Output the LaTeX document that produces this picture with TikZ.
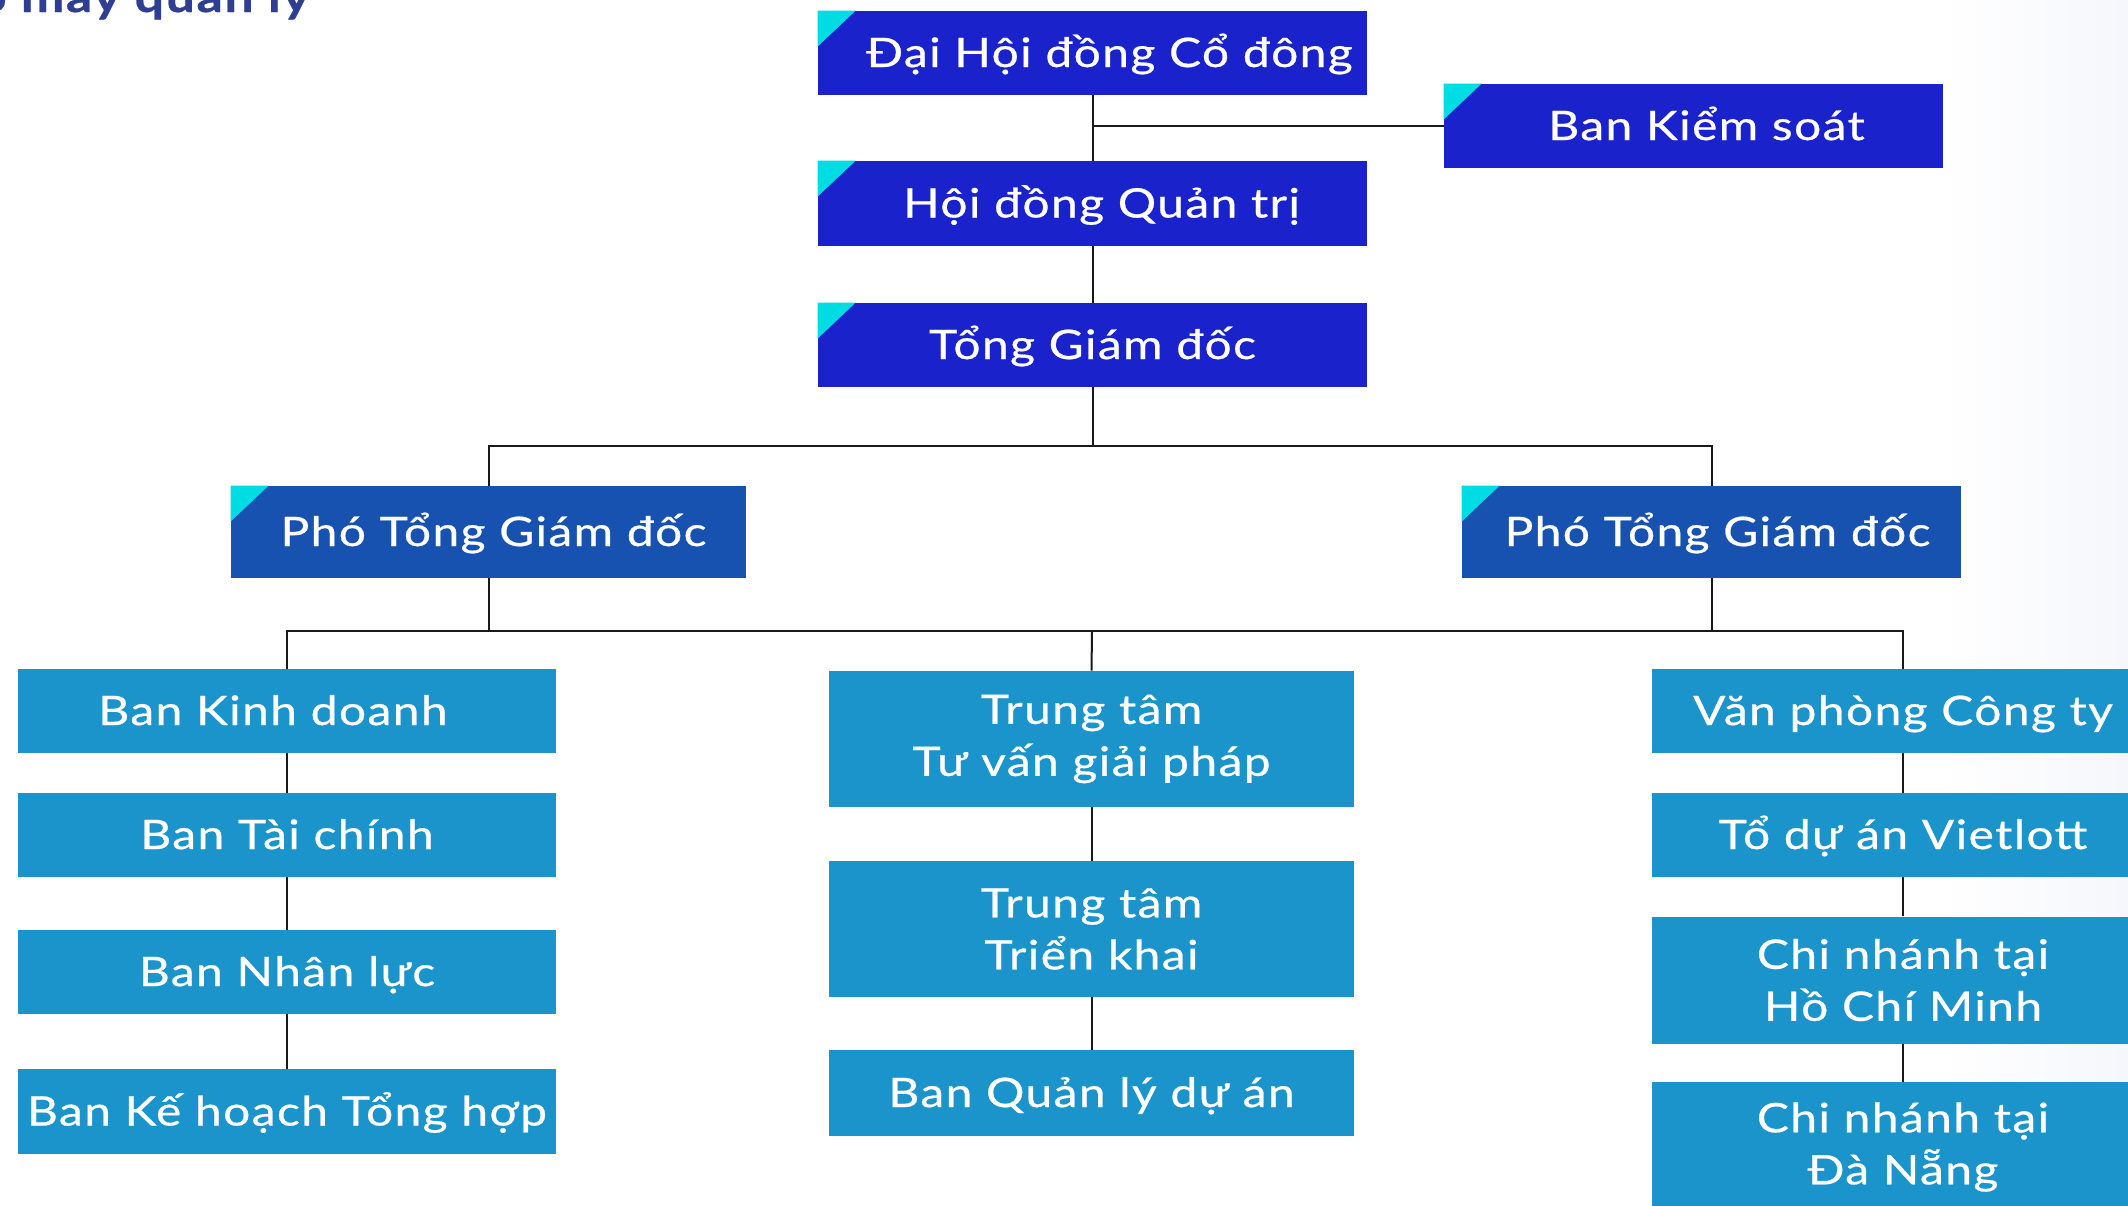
\documentclass[tikz,border=0pt]{standalone}
\usepackage{fontspec}
\setmainfont{Lato}[FakeStretch=1.18,LetterSpace=3.5,FakeBold=0.6]
\definecolor{navy}{RGB}{26,34,204}
\definecolor{midblue}{RGB}{24,82,176}
\definecolor{lightblue}{RGB}{26,148,203}
\definecolor{cyantri}{RGB}{0,220,228}
\definecolor{titleblue}{RGB}{46,62,145}
\definecolor{faint}{RGB}{246,247,252}
\tikzset{
  box/.style={rectangle, inner sep=0pt, text=white, align=center,
    font=\fontsize{20.3pt}{26pt}\selectfont},
  oneline/.style={text height=18pt, text depth=4pt},
  topbox/.style={box, oneline, fill=navy, minimum width=274.5pt, minimum height=42pt},
  vicebox/.style={box, oneline, fill=midblue, minimum height=46pt},
  deptbox/.style={box, fill=lightblue},
  link/.style={draw=black!90, line width=1pt},
  tri/.style={fill=cyantri}
}
\begin{document}
\begin{tikzpicture}[x=0.5pt,y=-0.5pt]
\useasboundingbox (0,0) rectangle (2128,1205);
\clip (0,0) rectangle (2128,1205);
\shade[left color=white, right color=faint] (1940,0) rectangle (2128,1205);

% title (cut at the top left, as in the source)
\node[anchor=base east, inner sep=0pt, text=titleblue,
  font=\bfseries\fontsize{22pt}{26pt}\selectfont] (title) at (310,12) {bộ máy quản lý};

% top level
\node[topbox] (dh) at (1092.5,53) {\hspace*{17pt}Đại Hội đồng Cổ đông};
\node[topbox, minimum width=249.5pt] (bks) at (1693.5,126) {\hspace*{13pt}Ban Kiểm soát};
\node[topbox, minimum height=42.5pt] (hdqt) at (1092.5,203.5) {\hspace*{9pt}Hội đồng Quản trị};
\node[topbox] (tgd) at (1092.5,345) {Tổng Giám đốc};

% deputies
\node[vicebox, minimum width=257.5pt] (ptgdL) at (488.5,532) {\hspace*{5pt}Phó Tổng Giám đốc};
\node[vicebox, minimum width=249.5pt] (ptgdR) at (1711.5,532) {\hspace*{6pt}Phó Tổng Giám đốc};

% corner marks
\foreach \n in {dh,bks,hdqt,tgd,ptgdL,ptgdR}
  \fill[tri] (\n.north west) -- ++(38,0) -- ++(-38,36) -- cycle;

% left column
\node[deptbox, oneline, minimum width=269pt, minimum height=42pt] (kd) at (287,711) {Ban Kinh doanh\hspace*{14pt}};
\node[deptbox, oneline, minimum width=269pt, minimum height=42pt] (tc) at (287,835) {Ban Tài chính};
\node[deptbox, oneline, minimum width=269pt, minimum height=42pt] (nl) at (287,972) {Ban Nhân lực};
\node[deptbox, oneline, minimum width=269pt, minimum height=42.5pt] (kh) at (287,1111.5) {Ban Kế hoạch Tổng hợp};

% center column
\node[deptbox, minimum width=262.5pt, minimum height=68pt] (tv) at (1091.5,739) {Trung tâm\\Tư vấn giải pháp};
\node[deptbox, minimum width=262.5pt, minimum height=68pt] (tk) at (1091.5,929) {Trung tâm\\Triển khai};
\node[deptbox, oneline, minimum width=262.5pt, minimum height=43pt] (ql) at (1091.5,1093) {Ban Quản lý dự án};

% right column
\node[deptbox, oneline, minimum width=251pt, minimum height=42pt] (vp) at (1903,711) {Văn phòng Công ty};
\node[deptbox, oneline, minimum width=251pt, minimum height=42pt] (vl) at (1903,835) {Tổ dự án Vietlott};
\node[deptbox, minimum width=251pt, minimum height=63.5pt] (hcm) at (1903,980) {Chi nhánh tại\\Hồ Chí Minh};
\node[deptbox, minimum width=251pt, minimum height=65pt] (dn) at (1903,1147) {Chi nhánh tại\\Đà Nẵng};

% connectors
\draw[link] (dh.south) -- (hdqt.north);
\coordinate (ksj) at (dh.south |- bks.west);
\draw[link] (ksj) -- (bks.west);
\draw[link] (hdqt.south) -- (tgd.north);
\coordinate (b1) at (1092.5,446);
\draw[link] (tgd.south) -- (b1);
\draw[link] (ptgdL.north) |- (b1) -| (ptgdR.north);
\coordinate (b2) at (1092,631);
\draw[link] (ptgdL.south) -- (ptgdL.south |- b2);
\draw[link] (ptgdR.south) -- (ptgdR.south |- b2);
\draw[link] (kd.north) |- (b2) -| (vp.north);
\draw[link] (b2) -- (tv.north);
\draw[link] (kd.south) -- (tc.north);
\draw[link] (tc.south) -- (nl.north);
\draw[link] (nl.south) -- (kh.north);
\draw[link] (tv.south) -- (tk.north);
\draw[link] (tk.south) -- (ql.north);
\draw[link] (vp.south) -- (vl.north);
\draw[link] (vl.south) -- (hcm.north);
\draw[link] (hcm.south) -- (dn.north);
\end{tikzpicture}
\end{document}
